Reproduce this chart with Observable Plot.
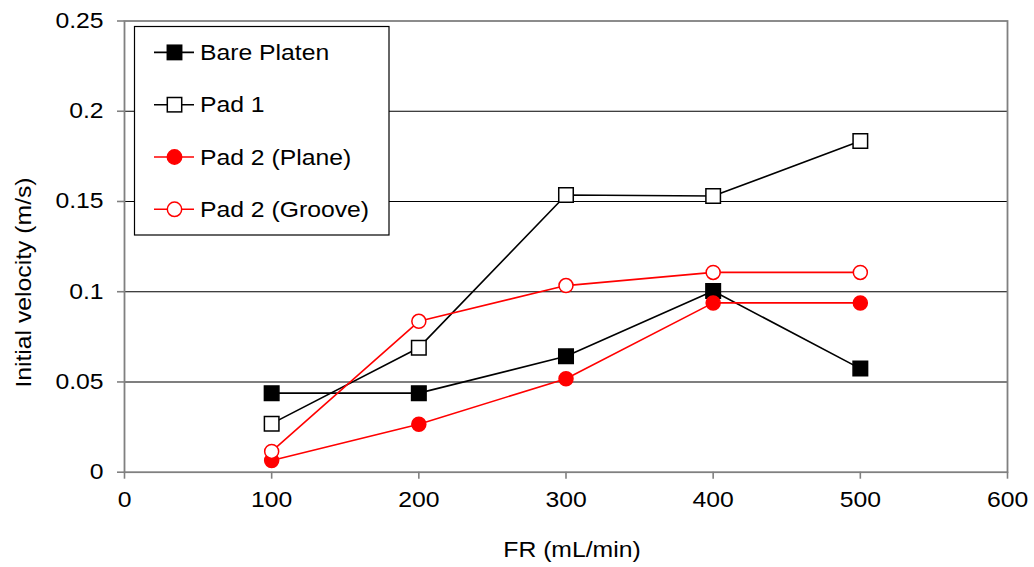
<!DOCTYPE html>
<html>
<head>
<meta charset="utf-8">
<script src="https://cdn.jsdelivr.net/npm/d3@7"></script>
<script src="https://cdn.jsdelivr.net/npm/@observablehq/plot@0.6"></script>
<style>
  html, body { margin: 0; padding: 0; background: #fff; }
  #wrap { width: 1034px; height: 567px; }
  #wrap svg [aria-label="y-axis tick"] path, #wrap svg [aria-label="x-axis tick"] path { stroke: #808080; stroke-width: 1.6; }
</style>
</head>
<body>
<div id="wrap"></div>
<script>
// Flow rate (mL/min) and the initial velocity (m/s) measured for each surface
const fr = [100, 200, 300, 400, 500];
const barePlaten = [0.0438, 0.0438, 0.0642, 0.1004, 0.0574];
const pad1 = [0.0269, 0.0690, 0.1536, 0.1530, 0.1835];
const pad2Plane = [0.0065, 0.0266, 0.0518, 0.0938, 0.0938];
const pad2Groove = [0.0115, 0.0836, 0.1034, 0.1107, 0.1107];

const seriesNames = ["Bare Platen", "Pad 1", "Pad 2 (Plane)", "Pad 2 (Groove)"];
const seriesValues = [barePlaten, pad1, pad2Plane, pad2Groove];
const seriesColors = ["#000000", "#000000", "#ff0000", "#ff0000"];
const seriesSymbols = ["square", "square", "circle", "circle"];
const seriesFilled = [true, false, true, false];

const xTicks = [0, 100, 200, 300, 400, 500, 600];
const yTicks = [0, 0.05, 0.1, 0.15, 0.2, 0.25];
const yTickLabels = ["0", "0.05", "0.1", "0.15", "0.2", "0.25"];
const yGrid = [0.05, 0.1, 0.15, 0.2];

const xTitle = "FR (mL/min)";
const yTitle = "Initial velocity (m/s)";

const FONT = "'Liberation Sans', Arial, sans-serif";
const FONT_SIZE = 21.5;
const WIDEN = 1.15; // text is set slightly wide along its reading direction
const markerR = {square: 8.2, circle: 7};

const marks = [
  Plot.ruleY(yGrid, {stroke: "#000", strokeWidth: 1.1}),
  Plot.frame({stroke: "#808080", strokeWidth: 1.8})
];
seriesNames.forEach((name, s) => {
  const rows = fr.map((x, i) => ({x, y: seriesValues[s][i], name}));
  marks.push(Plot.line(rows, {x: "x", y: "y", stroke: seriesColors[s], strokeWidth: 1.6}));
  marks.push(Plot.dot(rows, {
    x: "x", y: "y",
    symbol: () => seriesSymbols[s],
    r: markerR[seriesSymbols[s]],
    stroke: seriesColors[s],
    strokeWidth: 1.5,
    fill: seriesFilled[s] ? seriesColors[s] : "#fff"
  }));
});

const chart = Plot.plot({
  width: 1034,
  height: 567,
  marginLeft: 124,
  marginRight: 27,
  marginTop: 20.5,
  marginBottom: 95.3,
  style: {fontFamily: FONT, fontSize: FONT_SIZE + "px", background: "#fff", color: "#000"},
  symbol: {type: "identity"},
  x: {domain: [0, 600], ticks: xTicks, tickSize: 7, tickPadding: 13, label: null},
  y: {
    domain: [0, 0.25], ticks: yTicks, tickSize: 7, tickPadding: 14, label: null,
    tickFormat: (d) => yTickLabels[yTicks.indexOf(d)]
  },
  marks
});

document.getElementById("wrap").appendChild(chart);
const svg = d3.select(chart);

// Axis titles
svg.append("text")
  .attr("x", 572).attr("y", 557)
  .attr("text-anchor", "middle")
  .attr("font-family", FONT).attr("font-size", FONT_SIZE)
  .attr("fill", "#000")
  .text(xTitle);
svg.append("text")
  .attr("transform", "translate(31,282.5) rotate(-90)")
  .attr("text-anchor", "middle")
  .attr("font-family", FONT).attr("font-size", FONT_SIZE)
  .attr("fill", "#000")
  .text(yTitle);

// Legend box in the upper-left corner of the plot
const legend = svg.append("g").attr("aria-label", "legend");
legend.append("rect")
  .attr("x", 134.5).attr("y", 26.5).attr("width", 254.5).attr("height", 208.5)
  .attr("fill", "#fff").attr("stroke", "#000").attr("stroke-width", 1.2);
seriesNames.forEach((name, s) => {
  const base = 60 + s * 52.3;
  const cy = base - 7.6;
  const g = legend.append("g");
  g.append("line").attr("x1", 154).attr("x2", 194).attr("y1", cy).attr("y2", cy)
    .attr("stroke", seriesColors[s]).attr("stroke-width", 1.6);
  if (seriesSymbols[s] === "square") {
    g.append("rect").attr("x", 174.5 - 7.2).attr("y", cy - 7.2).attr("width", 14.4).attr("height", 14.4)
      .attr("fill", seriesFilled[s] ? seriesColors[s] : "#fff")
      .attr("stroke", seriesColors[s]).attr("stroke-width", 1.5);
  } else {
    g.append("circle").attr("cx", 174.5).attr("cy", cy).attr("r", 7.2)
      .attr("fill", seriesFilled[s] ? seriesColors[s] : "#fff")
      .attr("stroke", seriesColors[s]).attr("stroke-width", 1.5);
  }
  g.append("text").attr("x", 200).attr("y", base)
    .attr("text-anchor", "start")
    .attr("font-family", FONT).attr("font-size", FONT_SIZE)
    .attr("fill", "#000")
    .text(name);
});

// Widen every label along its own baseline
chart.querySelectorAll("text").forEach((t) => {
  const len = t.getComputedTextLength();
  if (len > 0) {
    t.setAttribute("textLength", (len * WIDEN).toFixed(2));
    t.setAttribute("lengthAdjust", "spacingAndGlyphs");
  }
});
</script>
</body>
</html>
